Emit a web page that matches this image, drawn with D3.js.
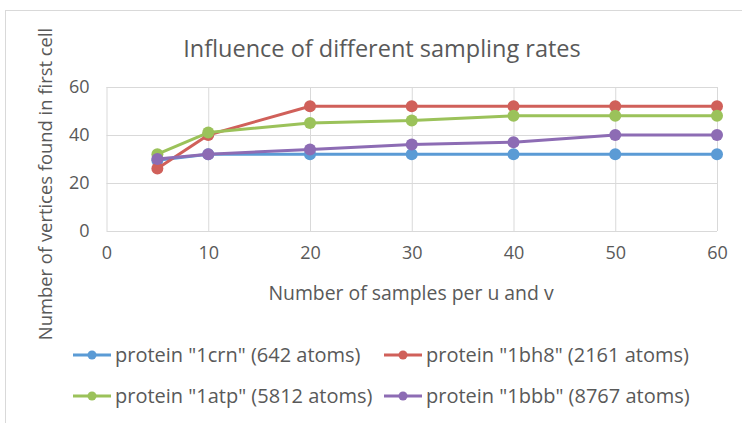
<!DOCTYPE html>
<html>
<head>
<meta charset="utf-8">
<script src="https://cdn.jsdelivr.net/npm/d3@7"></script>
<style>
  body { margin: 0; background: #fff; }
  text { font-family: "Open Sans", sans-serif; fill: #595959; }
</style>
</head>
<body>
<script>
// samples per u and v
var samples = [5, 10, 20, 30, 40, 50, 60];
var seriesNames = [
  'protein "1crn" (642 atoms)',
  'protein "1bh8" (2161 atoms)',
  'protein "1atp" (5812 atoms)',
  'protein "1bbb" (8767 atoms)'
];
var crn = [29.5, 32, 32, 32, 32, 32, 32];
var bh8 = [26, 40, 52, 52, 52, 52, 52];
var atp = [32, 41, 45, 46, 48, 48, 48];
var bbb = [30, 32, 34, 36, 37, 40, 40];
var xTicks = [0, 10, 20, 30, 40, 50, 60];
var yTicks = [0, 20, 40, 60];
var colors = ["#5b9bd5", "#d0605a", "#9bc25a", "#8d6cb4"];

var allSeries = [crn, bh8, atp, bbb];

var svgWidth = 742, svgHeight = 423;
var margin = { top: 87, right: 25, bottom: 192, left: 106.5 };
var chartWidth = svgWidth - margin.left - margin.right;
var chartHeight = svgHeight - margin.top - margin.bottom;

var svg = d3.select("body").append("svg")
    .attr("width", svgWidth)
    .attr("height", svgHeight);

// outer chart frame
svg.append("rect")
    .attr("x", 5.5).attr("y", 10.5)
    .attr("width", 760).attr("height", 440)
    .attr("fill", "none")
    .attr("stroke", "#d9d9d9");

var chartGroup = svg.append("g")
    .attr("transform", `translate(${margin.left}, ${margin.top})`);

var xScale = d3.scaleLinear().domain([0, 60]).range([0, chartWidth]);
var yScale = d3.scaleLinear().domain([0, 60]).range([chartHeight, 0]);

// gridlines
chartGroup.append("g")
    .call(d3.axisLeft(yScale).tickValues(yTicks).tickSize(-chartWidth).tickFormat(""))
    .call(g => g.select(".domain").remove())
    .selectAll("line").attr("stroke", "#d9d9d9");
chartGroup.append("g")
    .attr("transform", `translate(0, ${chartHeight})`)
    .call(d3.axisBottom(xScale).tickValues(xTicks).tickSize(-chartHeight).tickFormat(""))
    .call(g => g.select(".domain").remove())
    .selectAll("line").attr("stroke", "#d9d9d9");

// tick labels
var yAxis = chartGroup.append("g")
    .call(d3.axisLeft(yScale).tickValues(yTicks).tickSize(0).tickPadding(17));
yAxis.select(".domain").remove();
yAxis.selectAll("text").style("font-size", "18px").attr("fill", "#595959");

var xAxis = chartGroup.append("g")
    .attr("transform", `translate(0, ${chartHeight})`)
    .call(d3.axisBottom(xScale).tickValues(xTicks).tickSize(0).tickPadding(15));
xAxis.select(".domain").remove();
xAxis.selectAll("text").style("font-size", "18px").attr("fill", "#595959");

// lines and markers
var line = d3.line()
    .x((d, i) => xScale(samples[i]))
    .y(d => yScale(d));

allSeries.forEach(function(values, s) {
  chartGroup.append("path")
      .datum(values)
      .attr("d", line)
      .attr("fill", "none")
      .attr("stroke", colors[s])
      .attr("stroke-width", 3)
      .attr("stroke-linejoin", "round");
  chartGroup.selectAll(".pt" + s)
      .data(values)
      .enter()
      .append("circle")
      .attr("cx", (d, i) => xScale(samples[i]))
      .attr("cy", d => yScale(d))
      .attr("r", 6)
      .attr("fill", colors[s]);
});

// titles
svg.append("text")
    .attr("x", 382).attr("y", 57)
    .attr("text-anchor", "middle")
    .style("font-size", "23.5px")
    .text("Influence of different sampling rates");

svg.append("text")
    .attr("x", 411).attr("y", 300)
    .attr("text-anchor", "middle")
    .style("font-size", "19.4px")
    .text("Number of samples per u and v");

svg.append("text")
    .attr("transform", "translate(52, 184) rotate(-90)")
    .attr("text-anchor", "middle")
    .style("font-size", "18.4px")
    .text("Number of vertices found in first cell");

// legend
var legendPos = [[73, 355], [384, 355], [73, 396], [384, 396]];
seriesNames.forEach(function(name, s) {
  var g = svg.append("g")
      .attr("transform", `translate(${legendPos[s][0]}, ${legendPos[s][1]})`);
  g.append("line")
      .attr("x1", 0).attr("x2", 38)
      .attr("stroke", colors[s])
      .attr("stroke-width", 3);
  g.append("circle")
      .attr("cx", 19).attr("r", 4.5)
      .attr("fill", colors[s]);
  g.append("text")
      .attr("x", 42).attr("y", 7)
      .style("font-size", "20px")
      .text(name);
});
</script>
</body>
</html>
